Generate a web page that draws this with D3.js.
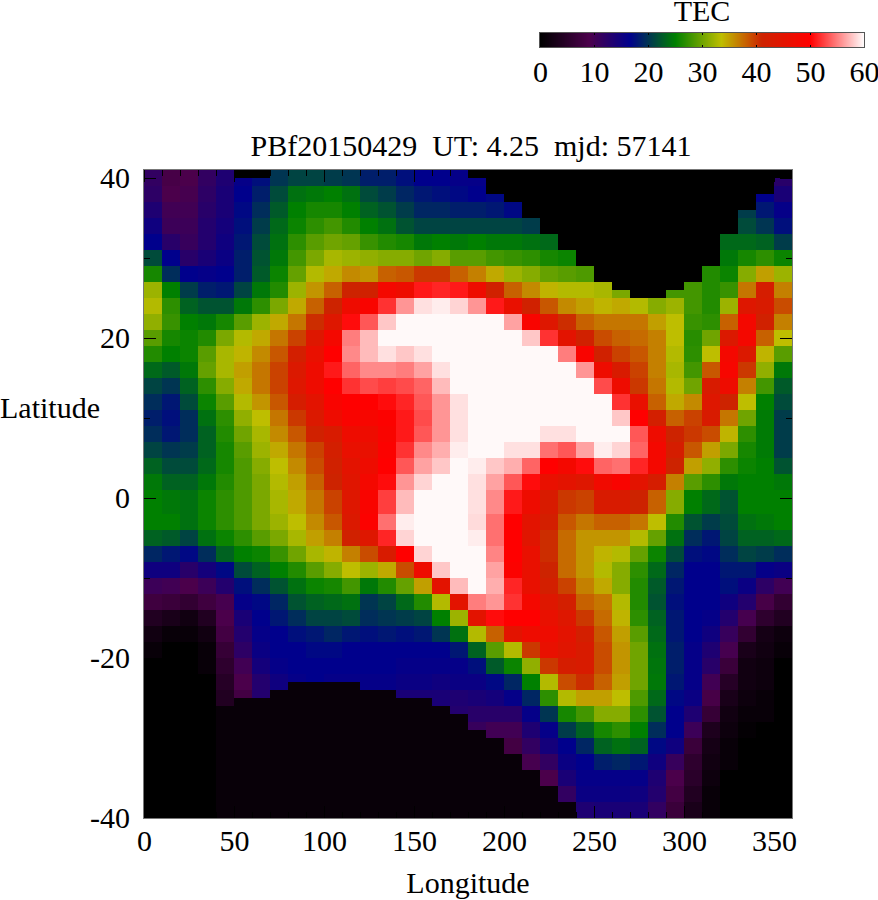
<!DOCTYPE html>
<html><head><meta charset="utf-8">
<script src="https://d3js.org/d3.v7.min.js"></script>
<style>html,body{margin:0;padding:0;background:#fff}svg{display:block}text{font-family:"Liberation Serif",serif;fill:#000;white-space:pre}</style>
</head><body><svg id="c" width="878" height="900"></svg>
<script>
// TEC by longitude column (10 deg wide), values run north to south in 40 equal latitude bins
const lon000=[11.5,12,13.5,15,16.5,21.5,26,32,33,31.5,29,26.5,23.5,21,19.5,18.5,19.5,21,23,24.5,25,25,23,19,15,10.5,7.5,4,2,1,0,0,0,0,0,0,0,0,0,0];
const lon010=[8.5,9,10,10.5,12.5,16.5,19.5,25,27,27.5,26,25,22.5,20,18,17.5,18,20,21.5,23,24.5,25,22.5,18,15,10,7,3,1,0,0,0,0,0,0,0,0,0,0,0];
const lon020=[9,9.5,10,10.5,11,12.5,16.5,20.5,23,25,25.5,25.5,24.5,23,21.5,19.5,19.5,20.5,21.5,23,24,24,21,17,12.5,9,6,2,1,0,0,0,0,0,0,0,0,0,0,0];
const lon030=[11.5,12,12.5,13,13,14,16,18.5,22,24.5,26.5,29,29.5,27,25.5,24,23,23,23.5,24.5,25.5,25.5,24,19.5,14.5,10.5,7.5,4,2,1,1,0,0,0,0,0,0,0,0,0];
const lon040=[13.5,14,14,14.5,15,15.5,16.5,18,22,26,30.5,32.5,32.5,31,29,27,26.5,26,26,26.5,27,27,25.5,23,17,13,9.5,9,8,6.5,5.5,4.5,4,0,0,0,0,0,0,0];
const lon050=[16,16.5,17,17.5,18,18.5,18.5,21,24.5,29,33,34,35,34.5,33,31.5,30,29,28.5,28.5,28.5,28.5,27,25,21.5,17.5,16,14,13,12,10,9,8,0,0,0,0,0,0,0];
const lon060=[17.5,18.5,19.5,20.5,21.5,22,22.5,24.5,27,32,34.5,36,37,37,35.5,33.5,32.5,32,31,30.5,30.5,30.5,29,25.5,23,19.5,17,16.5,16,15.5,14.5,13,13,0,0,0,0,0,0,0];
const lon070=[20,21.5,22.5,23.5,24,24.5,25.5,26.5,30.5,34.5,37,38.5,39.5,39.5,38.5,37,36,34.5,33.5,33,32.5,32,30.5,27.5,25,22,19,18,16.5,16.5,16,15,15,0,0,0,0,0,0,0];
const lon080=[21,24,25,25.5,27,28,29.5,32,34.5,37,39.5,42,43.5,44,42.5,40,38.5,37,36,35,34.5,33.5,32.5,30,26.5,24,22,19.5,17.5,16.5,16.5,16,16,0,0,0,0,0,0,0];
const lon090=[21,24.5,26,27,29,30.5,33,35.5,38,40.5,44,46,47,47,45,43.5,41.5,39.5,39,38,37,36,35,32.5,29,25.5,23,21,18,17,16.5,16.5,16.5,0,0,0,0,0,0,0];
const lon100=[20.5,25,26,28,30,32.5,34.5,38,41,44,48,50,51,50,49,47,43,42,41.5,41,39.5,38.5,36.5,34,31,26,23.5,21,19,17,16.5,16,16,0,0,0,0,0,0,0];
const lon110=[20,24,25,26.5,29.5,32,36,41,47,50.5,55,55.5,54,52,50,49,47,46,45,44.5,44,43.5,41.5,36.5,33.5,28,24,21.5,18,16.5,16.5,16,16,0,0,0,0,0,0,0];
const lon120=[18.5,21.5,23,25,27.5,31.5,35.5,41.5,49,53.5,57.5,57.5,55.5,53,50,48.5,47,46,47,48,49,49.5,44,39,32,24.5,20,19.5,17.5,16.5,16.5,16,16,0,0,0,0,0,0,0];
const lon130=[18.5,20.5,22,24,26.5,31,38,48,52,58,60,59,55.5,52.5,50.5,49.5,49,49.5,50,50.5,52.5,54.5,51.5,43,34.5,26.5,21,20,18,16.5,16.5,16,16,0,0,0,0,0,0,0];
const lon140=[17.5,19,20.5,22,26,31,38.5,47,56,60,60,58,55,53,51.5,51,51,52,53.5,56,57.5,59.5,58.5,50,39,29.5,23.5,20.5,17.5,16.5,16,15.5,14,0,0,0,0,0,0,0];
const lon150=[16.5,18,19,21,24.5,30,40,51,59,60,60,59,56.5,54,53.5,53,53.5,55.5,56.5,58.5,60,60,60,58.5,47,35,26.5,21,18,16.5,16,15.5,14,0,0,0,0,0,0,0];
const lon160=[16.5,17.5,19,21,25,31,40,51.5,59.5,60,60,60,59,57.5,56,56,56,57,58,60,60,60,60,60,58,45,33,25,20,16.5,16,15,14,14,0,0,0,0,0,0];
const lon170=[16,17,18.5,21,24.5,29,38,51,58.5,60,60,60,60,60,59,59,59,59.5,60,60,60,60,60,60,60,57.5,45,32,24,18,16,15.5,13.5,13,0,0,0,0,0,0];
const lon180=[16,16.5,18.5,21,25,29,36.5,47,56,60,60,60,60,60,60,60,60,60,59.5,59,59,58.8,59.5,60,60,60,55,45,33,23,17.5,15.5,14,12.5,11,0,0,0,0,0];
const lon190=[0,17,18,21,24.5,28,34.5,41.5,51,60,60,60,60,60,60,60,60,60,58,56.5,55.5,54.5,54.5,55.3,56.5,57,56,50.5,38,29,22.5,17,14.5,12.5,10,0,0,0,0,0];
const lon200=[0,0,17,21,24.5,27.5,32,38,46,56.5,60,60,60,60,60,60,60,59,57,53.5,51,50,50,50,49.5,51.5,52,50,45,33,25.5,19,16,12.5,10,8,0,0,0,0];
const lon210=[0,0,0,20.5,24,27,31,36,41.5,49,58,60,60,60,60,60,60,59,54,50.5,47,45,44.5,46,46,46,48,50,47,40,31.5,25,19,16,13.5,11.5,9.5,0,0,0];
const lon220=[0,0,0,0,23.5,26,29.5,34,38.5,44,52,60,60,60,60,60,59,54.5,50,46,43,42,40.5,40.5,41,42,44,46,47,46,40,33,27,20,16,14.5,11.5,9,0,0];
const lon230=[0,0,0,0,0,25.5,29,33,36,40.5,45,55,60,60,60,60,59,53.5,48,45,40,38.5,37.5,37.5,37.5,39.5,42,44,45,44.5,42.5,39,33,26,20.5,16.5,15.5,14,11.5,0];
const lon240=[0,0,0,0,0,0,28.5,33,35,38,41.5,49,56,60,60,60,60,56.5,50.5,44,39.5,37,35.5,35.5,35.5,36.5,38,40,42,43,43,40.5,35,28,23,19,16.5,16,15.5,13.5];
const lon250=[0,0,0,0,0,0,0,32.5,34,37,39,41.5,47,53,60,60,60,59.5,54,47.5,43,38,35.5,34,33,34.5,37,37.5,38.5,39,39,38,35,31,26,23,18.5,16,15.5,14];
const lon260=[0,0,0,0,0,0,0,30.5,34.5,37,38,39.5,43,47,52,58,60,58.5,54.5,49,43,38,35.5,33,31,31,33,34,35,35.5,35.5,35,33.5,31,27,24,19,16,15.5,14];
const lon270=[0,0,0,0,0,0,0,0,33,37,37.5,38.5,39.5,40,46,50,53.5,54,51.5,45,41,37,33,29.5,27,26.5,26.5,27,29,30,30,30,28.5,27,25,23,18,16,15,14];
const lon280=[0,0,0,0,0,0,0,0,31,35,36.5,36.5,36.5,37,38,42,47,48,48,42.5,38,33.5,29.5,25.5,23.5,22.5,22,23,23.5,24,24.3,24.5,23.5,22,19.5,17,15,13.5,13,11.5];
const lon290=[0,0,0,0,0,0,0,28,32,33.5,33.5,33,32.5,33,34.5,38,41,42.5,41,36.5,31,26.5,24,21.5,19,18,17.5,18,18,18.5,18.5,18,17,16.5,16.5,15,11,9,8,7];
const lon300=[0,0,0,0,0,0,0,28,28,27.5,26.8,27,28,30,36,39.5,40,38.5,35,29,25,22,19.5,17.5,16.5,16.5,16.5,16.5,16.5,16,16,16,15.5,13.5,10.5,7,5.5,5,4,3];
const lon310=[0,0,0,0,0,0,26.5,26.5,26.5,27,30,33.5,38.5,43,44,43,39,35,31.5,27,23.5,20.5,18,17,16.5,16.5,16.5,16,15,13.5,12.5,10,8.5,6.5,3.5,2.5,2,1.5,1,1];
const lon320=[0,0,0,0,23.5,24.5,25.5,27.5,32,38,43.5,48,48.5,47,41,37,34,30.5,27,24.5,22,21.5,21,19.5,18,17.5,15,13,11,9.5,7,4.5,3,2,1.5,1,1,0,0,0];
const lon330=[0,0,20.5,21.5,23.5,26,31,37,44,48,48,43.5,40,36.5,33.5,30,27,26,25.5,25,25,24,23,21,18,15.5,13,9.5,6,3,2,2,1.5,1,0.5,0,0,0,0,0];
const lon340=[0,16.5,18,20,23,27,35,42.5,43,41.5,38,34,31.5,28,25,24.7,24.7,24.7,25,25,25,24.5,23,20.5,16,12,8.5,5.5,2.5,2,1.5,1.5,1,1,0,0,0,0,0,0];
const lon350=[12.5,14,16,17.5,20.5,25.5,32,36.5,39,36.5,33.5,29,24.5,22.5,21.5,20.5,20.5,20.5,22,24.5,25,25,23.5,19.5,15.5,10,6,4,1.5,1,0,0,0,0,0,0,0,0,0,0];
// upper and lower latitude limit of valid data in each longitude column
const dataNorth=[41,41,41,41,41,40,40,41,41,41,41,41,41,41,41,41,41,41,40,38,37,35,33,31,29,27,26,25,25,26,27,29,33,36,38,40];
const dataSouth=[-40,-40,-40,-40,-26,-25,-25,-24,-23,-23,-23,-23,-24,-24,-25,-25,-26,-27,-29,-30,-32,-34,-36,-38,-40,-40,-40,-40,-40,-40,-40,-40,-40,-40,-40,-40];
const colorValues=[0,9,16.5,25,33.5,41,50,60];
const colorList=["#000000","#4b004b","#00008c","#008000","#bebe00","#cd2300","#ff0000","#fff9f9"];
const lonTicksMajor=[0,50,100,150,200,250,300,350];
const lonTicksMinor=[10,20,30,40,60,70,80,90,110,120,130,140,160,170,180,190,210,220,230,240,260,270,280,290,310,320,330,340];
const latTicksMajor=[40,20,0,-20,-40];
const latTicksMinor=[30,10,-10,-30];
const tecTicks=[0,10,20,30,40,50,60];
const titleText="PBf20150429  UT: 4.25  mjd: 57141";

const columns=[lon000,lon010,lon020,lon030,lon040,lon050,lon060,lon070,lon080,lon090,lon100,lon110,lon120,lon130,lon140,lon150,lon160,lon170,lon180,lon190,lon200,lon210,lon220,lon230,lon240,lon250,lon260,lon270,lon280,lon290,lon300,lon310,lon320,lon330,lon340,lon350];
const FS=30;
const svg=d3.select("#c");
const x=d3.scaleLinear().domain([0,360]).range([144,792]);
const y=d3.scaleLinear().domain([41,-40]).range([170,818]);
const color=d3.scaleLinear().domain(colorValues).range(colorList).clamp(true);
const binScale=d3.scaleLinear().domain([41,-40]).range([0,40]);

const latRows=d3.range(41,-40,-1);
const cells=[];
columns.forEach((col,i)=>{
  latRows.forEach(lat=>{
    let v;
    if(lat>dataNorth[i]) v=0;
    else if(lat-1<dataSouth[i]) v=1;
    else v=col[Math.floor(binScale(lat-0.5))];
    cells.push({lon:i*10,lat,v});
  });
});
svg.append("g").attr("shape-rendering","crispEdges").selectAll("rect").data(cells).join("rect")
  .attr("x",d=>x(d.lon)).attr("y",d=>y(d.lat))
  .attr("width",d=>x(d.lon+10)-x(d.lon)).attr("height",d=>y(d.lat-1)-y(d.lat))
  .attr("fill",d=>color(d.v));

function styleAxis(g){
  g.select(".domain").remove();
  g.selectAll("line").attr("stroke","#000").attr("shape-rendering","crispEdges");
  g.selectAll("text").attr("font-size",FS).attr("fill","#000");
}
const ax=(gen,tx,ty)=>svg.append("g").attr("transform",`translate(${tx},${ty})`).call(gen).call(styleAxis);
// major with labels
ax(d3.axisBottom(x).tickValues(lonTicksMajor).tickSize(-12).tickPadding(12).tickFormat(d=>String(d)),0,818);
ax(d3.axisLeft(y).tickValues(latTicksMajor).tickSize(-12).tickPadding(14).tickFormat(d=>String(d)),144,0);
// mirrored and minor ticks
ax(d3.axisTop(x).tickValues(lonTicksMajor).tickSize(-12).tickFormat(""),0,170);
ax(d3.axisRight(y).tickValues(latTicksMajor).tickSize(-12).tickFormat(""),792,0);
ax(d3.axisBottom(x).tickValues(lonTicksMinor).tickSize(-6).tickFormat(""),0,818);
ax(d3.axisTop(x).tickValues(lonTicksMinor).tickSize(-6).tickFormat(""),0,170);
ax(d3.axisLeft(y).tickValues(latTicksMinor).tickSize(-6).tickFormat(""),144,0);
ax(d3.axisRight(y).tickValues(latTicksMinor).tickSize(-6).tickFormat(""),792,0);
svg.append("rect").attr("x",143.5).attr("y",169.5).attr("width",649).attr("height",649)
  .attr("fill","none").attr("stroke","#777");

// colour bar
const lx=d3.scaleLinear().domain([0,60]).range([540,864]);
const step=60/324;
const barColor=d3.scaleLinear().domain(colorValues).range(colorList.slice(0,7).concat("#ffffff"));
svg.append("g").attr("shape-rendering","crispEdges").selectAll("rect").data(d3.range(0,60,step)).join("rect")
  .attr("x",d=>lx(d)).attr("y",33).attr("width",1.2).attr("height",14).attr("fill",d=>barColor(d));
ax(d3.axisBottom(lx).tickValues(tecTicks).tickSize(-2).tickPadding(14).tickFormat(d=>String(d)),0,47);
ax(d3.axisTop(lx).tickValues(tecTicks).tickSize(-2).tickFormat(""),0,33);
svg.append("rect").attr("x",539.5).attr("y",32.5).attr("width",325).attr("height",15)
  .attr("fill","none").attr("stroke","#555");

const label=(t,xp,yp,anchor)=>svg.append("text").attr("x",xp).attr("y",yp).attr("text-anchor",anchor)
  .attr("font-size",FS).text(t);
label("TEC",702,21,"middle");
label(titleText,471,156,"middle");
label("Latitude",0,418,"start");
label("Longitude",468,893,"middle");
</script></body></html>
